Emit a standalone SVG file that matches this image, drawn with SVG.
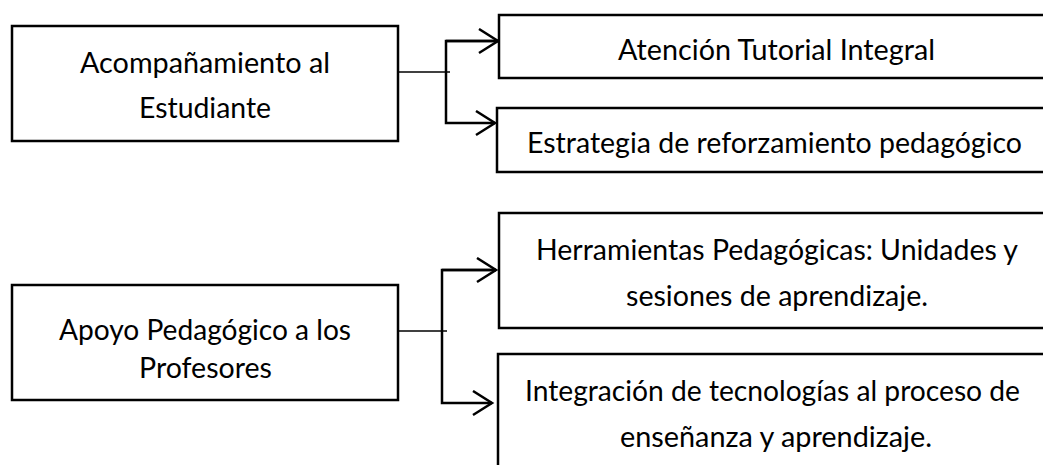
<svg xmlns="http://www.w3.org/2000/svg" width="1043" height="465" viewBox="0 0 1043 465">
<style>
.box{fill:#fff;stroke:#000;stroke-width:2.5}
.t{font-family:Lato,"Liberation Sans",sans-serif;font-size:29px;fill:#000}
.thin{stroke:#000;stroke-width:1.3;fill:none}
.bus{stroke:#000;stroke-width:2.5;fill:none}
</style>
<defs>
<marker id="arr" markerUnits="userSpaceOnUse" markerWidth="24" markerHeight="28" refX="20" refY="13" orient="auto">
<polyline points="1,1 20,13 1,25" fill="none" stroke="#000" stroke-width="2.5"/>
</marker>
</defs>
<rect width="1043" height="465" fill="#fff"/>
<g id="connectors">
<line class="thin" x1="398" y1="72" x2="450" y2="72"/>
<polyline class="bus" points="498,41 446,41 446,123 495,123" marker-end="url(#arr)"/>
<polyline class="bus" points="446,41 498,41" marker-end="url(#arr)"/>
<line class="thin" x1="398" y1="331" x2="447" y2="331"/>
<polyline class="bus" points="496,270 442,270 442,403 492,403" marker-end="url(#arr)"/>
<polyline class="bus" points="442,270 496,270" marker-end="url(#arr)"/>
</g>
<g id="n1">
<rect class="box" x="12" y="26" width="386" height="115"/>
<text class="t" x="80" y="73" textLength="250" lengthAdjust="spacingAndGlyphs">Acompañamiento al</text>
<text class="t" x="139" y="118" textLength="132" lengthAdjust="spacingAndGlyphs">Estudiante</text>
</g>
<g id="n2">
<rect class="box" x="499" y="15" width="560" height="63"/>
<text class="t" x="618" y="60" textLength="317" lengthAdjust="spacingAndGlyphs">Atención Tutorial Integral</text>
</g>
<g id="n3">
<rect class="box" x="497" y="108" width="560" height="64"/>
<text class="t" x="527" y="153" textLength="495" lengthAdjust="spacingAndGlyphs">Estrategia de reforzamiento pedagógico</text>
</g>
<g id="n4">
<rect class="box" x="12" y="285" width="386" height="115"/>
<text class="t" x="59" y="340" textLength="292" lengthAdjust="spacingAndGlyphs">Apoyo Pedagógico a los</text>
<text class="t" x="139" y="378" textLength="133" lengthAdjust="spacingAndGlyphs">Profesores</text>
</g>
<g id="n5">
<rect class="box" x="499" y="213" width="560" height="115"/>
<text class="t" x="536" y="260" textLength="482" lengthAdjust="spacingAndGlyphs">Herramientas Pedagógicas: Unidades y</text>
<text class="t" x="626" y="306" textLength="302" lengthAdjust="spacingAndGlyphs">sesiones de aprendizaje.</text>
</g>
<g id="n6">
<rect class="box" x="498" y="354" width="560" height="130"/>
<text class="t" x="525" y="401" textLength="495" lengthAdjust="spacingAndGlyphs">Integración de tecnologías al proceso de</text>
<text class="t" x="620" y="447" textLength="312" lengthAdjust="spacingAndGlyphs">enseñanza y aprendizaje.</text>
</g>
</svg>
